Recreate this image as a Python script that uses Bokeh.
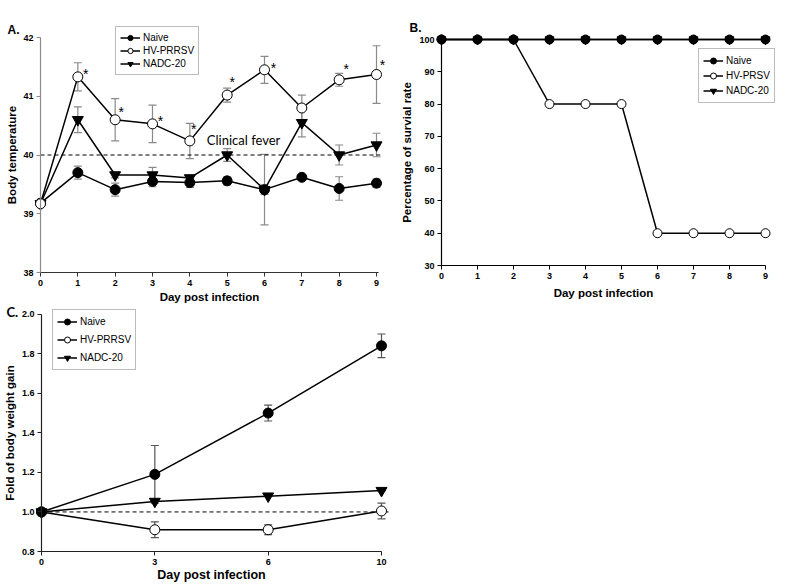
from bokeh.plotting import figure
from bokeh.layouts import column, row
from bokeh.models import (ColumnDataSource, Range1d, Whisker, TeeHead, Legend,
                          LegendItem, Label, FixedTicker, PrintfTickFormatter)
from bokeh.core.properties import value
from bokeh.embed import file_html
from bokeh.resources import INLINE

FONT = "Liberation Sans"

# ---------------- data ----------------
days_a = [0, 1, 2, 3, 4, 5, 6, 7, 8, 9]
naive_temp = [39.18, 39.70, 39.41, 39.55, 39.53, 39.56, 39.41, 39.62, 39.43, 39.52]
naive_temp_err = [0.0, 0.11, 0.11, 0.09, 0.08, 0.07, 0.08, 0.03, 0.20, 0.07]
hv_temp = [39.17, 41.33, 40.60, 40.53, 40.24, 41.02, 41.45, 40.80, 41.28, 41.37]
hv_temp_err = [0.0, 0.24, 0.36, 0.32, 0.30, 0.12, 0.23, 0.22, 0.11, 0.49]
nadc_temp = [39.17, 40.60, 39.66, 39.66, 39.61, 40.00, 39.41, 40.55, 40.00, 40.17]
nadc_temp_err = [0.0, 0.22, 0.05, 0.13, 0.05, 0.11, 0.60, 0.24, 0.17, 0.20]
temp_ticks = [38, 39, 40, 41, 42]
star_days = [1, 2, 3, 4, 5, 6, 8, 9]
fever_level = 40.0

days_b = [0, 1, 2, 3, 4, 5, 6, 7, 8, 9]
naive_surv = [100, 100, 100, 100, 100, 100, 100, 100, 100, 100]
hv_surv = [100, 100, 100, 80, 80, 80, 40, 40, 40, 40]
nadc_surv = [100, 100, 100, 100, 100, 100, 100, 100, 100, 100]
surv_ticks = [30, 40, 50, 60, 70, 80, 90, 100]

days_c = ["0", "3", "6", "10"]
naive_wt = [1.00, 1.19, 1.50, 1.84]
naive_wt_err = [0.0, 0.146, 0.04, 0.06]
hv_wt = [1.00, 0.91, 0.91, 1.005]
hv_wt_err = [0.0, 0.04, 0.025, 0.04]
nadc_wt = [1.00, 1.053, 1.08, 1.108]
nadc_wt_err = [0.0, 0.0, 0.0, 0.0]
wt_ticks = [0.8, 1.0, 1.2, 1.4, 1.6, 1.8, 2.0]


def full_range(p0, p1, v0, v1, total):
    """Range covering pixels 0..total where pixel p0 shows v0 and p1 shows v1."""
    s = (v1 - v0) / (p1 - p0)
    a = v0 - p0 * s
    b = v0 + (total - p0) * s
    return Range1d(min(a, b), max(a, b))


def make_fig(w, h, xr, yr):
    return figure(width=w, height=h, output_backend="svg", toolbar_location=None,
                  x_range=xr, y_range=yr, min_border=0, min_border_left=0,
                  min_border_right=0, min_border_top=0, min_border_bottom=0)


def style_axes(p, xcol="black", ycol="black"):
    for ax, col in ((p.xaxis[0], xcol), (p.yaxis[0], ycol)):
        ax.axis_line_color = col
        ax.axis_line_width = 1.2
        ax.major_tick_line_color = col
        ax.minor_tick_line_color = None
        ax.major_tick_out = 4
        ax.major_tick_in = 0
        ax.major_label_text_font = FONT
        ax.major_label_text_font_style = "bold"
        ax.major_label_text_font_size = "9px"
        ax.major_label_text_color = "black"
        ax.axis_label_text_font = FONT
        ax.axis_label_text_font_style = "bold"
        ax.axis_label_text_font_size = "11.5px"
        ax.axis_label_text_color = "black"
        ax.major_label_standoff = 3
    p.xgrid.visible = False
    p.ygrid.visible = False
    p.outline_line_color = None
    p.background_fill_color = None


def add_series(p, src, xf, yf, marker, fill, size, errf=None, errcol="#8a8a8a"):
    if errf is not None:
        src.data["_up"] = [a + b for a, b in zip(src.data[yf], src.data[errf])]
        src.data["_lo"] = [a - b for a, b in zip(src.data[yf], src.data[errf])]
        w = Whisker(source=src, base=xf, upper="_up", lower="_lo",
                    line_color=errcol, line_width=1.2, level="underlay",
                    upper_head=TeeHead(size=8, line_color=errcol, line_width=1.2),
                    lower_head=TeeHead(size=8, line_color=errcol, line_width=1.2))
        p.add_layout(w)
    ln = p.line(xf, yf, source=src, line_color="black", line_width=1.5)
    sc = p.scatter(xf, yf, source=src, marker=marker, size=size,
                   fill_color=fill, line_color="black", line_width=1)
    return ln, sc


def make_legend(p, items, loc, spacing, gh=15):
    leg = Legend(items=items, location=loc, orientation="vertical")
    leg.label_text_font = FONT
    leg.label_text_font_size = "10px"
    leg.label_text_color = "black"
    leg.border_line_color = "#7a7a7a"
    leg.border_line_width = 1
    leg.background_fill_color = "white"
    leg.background_fill_alpha = 1
    leg.glyph_width = 20
    leg.glyph_height = gh
    leg.label_height = gh
    leg.label_standoff = 3
    leg.spacing = spacing
    leg.padding = 4
    leg.margin = 0
    p.add_layout(leg, "center")


def panel_label(p, text, x, y, font=FONT, size="12px"):
    p.add_layout(Label(x=x, y=y, x_units="screen", y_units="screen", text=text,
                       text_font=font, text_font_style="bold",
                       text_font_size=size, text_color="black"))


# ---------------- Panel A ----------------
WA, HA = 400, 305
pA = make_fig(WA, HA, full_range(40, 376, days_a[0], days_a[-1], WA),
              full_range(272, 37, temp_ticks[0], temp_ticks[-1], HA))
style_axes(pA, xcol="#333333", ycol="#8a8a8a")
pA.xaxis.ticker = FixedTicker(ticks=days_a)
pA.yaxis.ticker = FixedTicker(ticks=temp_ticks)
pA.xaxis.bounds = (days_a[0], days_a[-1] + 0.05)
pA.yaxis.bounds = (temp_ticks[0], temp_ticks[-1])
pA.yaxis.fixed_location = days_a[0]
pA.xaxis.fixed_location = temp_ticks[0]
pA.xaxis.axis_label = "Day post infection"
pA.yaxis.axis_label = "Body temperature"
pA.xaxis.axis_label_standoff = 2
pA.yaxis.axis_label_standoff = 2

pA.line([days_a[0], days_a[-1] + 0.1], [fever_level, fever_level],
        line_color="black", line_width=1, line_dash="4 3")

srcAn = ColumnDataSource(dict(x=days_a, y=naive_temp, e=naive_temp_err))
srcAh = ColumnDataSource(dict(x=days_a, y=hv_temp, e=hv_temp_err))
srcAd = ColumnDataSource(dict(x=days_a, y=nadc_temp, e=nadc_temp_err))
lnA1, scA1 = add_series(pA, srcAn, "x", "y", "circle", "black", 10, "e")
lnA3, scA3 = add_series(pA, srcAd, "x", "y", "inverted_triangle", "black", 11, "e")
lnA2, scA2 = add_series(pA, srcAh, "x", "y", "circle", "white", 10, "e")

star_y = [hv_temp[d] for d in star_days]
star_dx = [8, 6, 8, 4, 5, 9, 7, 6]
star_dy = [-3, -8, -3, -12, -13, -2, -11, -10]
pA.text(x="x", y="y", x_offset="dx", y_offset="dy", text=value("*"),
        source=ColumnDataSource(dict(x=star_days, y=star_y, dx=star_dx, dy=star_dy)),
        text_font=value(FONT), text_font_size="14px", text_align="center",
        text_baseline="middle", text_color="black")
pA.text(x=[5.44], y=[fever_level + 0.26], text=["Clinical fever"],
        text_font=value("Lato"), text_font_size="13px", text_align="center",
        text_baseline="middle", text_color="black")

make_legend(pA, [LegendItem(label="Naive", renderers=[lnA1, scA1]),
                 LegendItem(label="HV-PRRSV", renderers=[lnA2, scA2]),
                 LegendItem(label="NADC-20", renderers=[lnA3, scA3])],
            (115, HA - 75), 0, gh=13)
panel_label(pA, "A.", 7, HA - 36)

# ---------------- Panel B ----------------
WB, HB = 396, 305
pB = make_fig(WB, HB, full_range(41, 365, days_b[0], days_b[-1], WB),
              full_range(265, 39, surv_ticks[0], surv_ticks[-1], HB))
style_axes(pB)
pB.xaxis.ticker = FixedTicker(ticks=days_b)
pB.yaxis.ticker = FixedTicker(ticks=surv_ticks)
pB.xaxis.bounds = (days_b[0], days_b[-1])
pB.yaxis.bounds = (surv_ticks[0], surv_ticks[-1])
pB.yaxis.fixed_location = days_b[0]
pB.xaxis.fixed_location = surv_ticks[0]
pB.xaxis.axis_label = "Day post infection"
pB.yaxis.axis_label = "Percentage of survial rate"
pB.xaxis.axis_label_standoff = 5
pB.yaxis.axis_label_standoff = 3

srcBn = ColumnDataSource(dict(x=days_b, y=naive_surv))
srcBh = ColumnDataSource(dict(x=days_b, y=hv_surv))
srcBd = ColumnDataSource(dict(x=days_b, y=nadc_surv))
lnB2, scB2 = add_series(pB, srcBh, "x", "y", "circle", "white", 9)
lnB1, scB1 = add_series(pB, srcBn, "x", "y", "circle", "black", 9)
lnB3, scB3 = add_series(pB, srcBd, "x", "y", "inverted_triangle", "black", 9)
make_legend(pB, [LegendItem(label="Naive", renderers=[lnB1, scB1]),
                 LegendItem(label="HV-PRSV", renderers=[lnB2, scB2]),
                 LegendItem(label="NADC-20", renderers=[lnB3, scB3])],
            (298, HB - 103), 0)
panel_label(pB, "B.", 9, HB - 34)

# ---------------- Panel C ----------------
WC, HC = 400, 281
idx_c = list(range(len(days_c)))
pC = make_fig(WC, HC, full_range(41, 381, idx_c[0], idx_c[-1], WC),
              full_range(246, 8.7, wt_ticks[0], wt_ticks[-1], HC))
style_axes(pC, xcol="#222222", ycol="#222222")
pC.xaxis.ticker = FixedTicker(ticks=idx_c)
pC.xaxis.major_label_overrides = {i: d for i, d in zip(idx_c, days_c)}
pC.yaxis.ticker = FixedTicker(ticks=wt_ticks)
pC.yaxis.formatter = PrintfTickFormatter(format="%.1f")
pC.xaxis.bounds = (idx_c[0], idx_c[-1])
pC.yaxis.bounds = (wt_ticks[0], wt_ticks[-1])
pC.yaxis.fixed_location = idx_c[0]
pC.xaxis.fixed_location = wt_ticks[0]
pC.xaxis.axis_label = "Day post infection"
pC.yaxis.axis_label = "Fold of body weight gain"
pC.xaxis.axis_label_text_font_size = "12.5px"
pC.xaxis.axis_label_standoff = 0
pC.yaxis.axis_label_standoff = 3

pC.line([idx_c[0], idx_c[-1] + 0.07], [1.0, 1.0], line_color="black",
        line_width=1, line_dash="4 3")
srcCn = ColumnDataSource(dict(x=idx_c, y=naive_wt, e=naive_wt_err))
srcCh = ColumnDataSource(dict(x=idx_c, y=hv_wt, e=hv_wt_err))
srcCd = ColumnDataSource(dict(x=idx_c, y=nadc_wt, e=nadc_wt_err))
lnC2, scC2 = add_series(pC, srcCh, "x", "y", "circle", "white", 10, "e", "#555555")
lnC3, scC3 = add_series(pC, srcCd, "x", "y", "inverted_triangle", "black", 11, "e", "#555555")
lnC1, scC1 = add_series(pC, srcCn, "x", "y", "circle", "black", 10, "e", "#555555")
make_legend(pC, [LegendItem(label="Naive", renderers=[lnC1, scC1]),
                 LegendItem(label="HV-PRRSV", renderers=[lnC2, scC2]),
                 LegendItem(label="NADC-20", renderers=[lnC3, scC3])],
            (52, HC - 65), 3)
panel_label(pC, "C.", 6, HC - 14, font="Lato", size="13px")

layout = column(row(pA, pB, spacing=0), pC, spacing=0)
open("out.html", "w").write(file_html(layout, INLINE))
